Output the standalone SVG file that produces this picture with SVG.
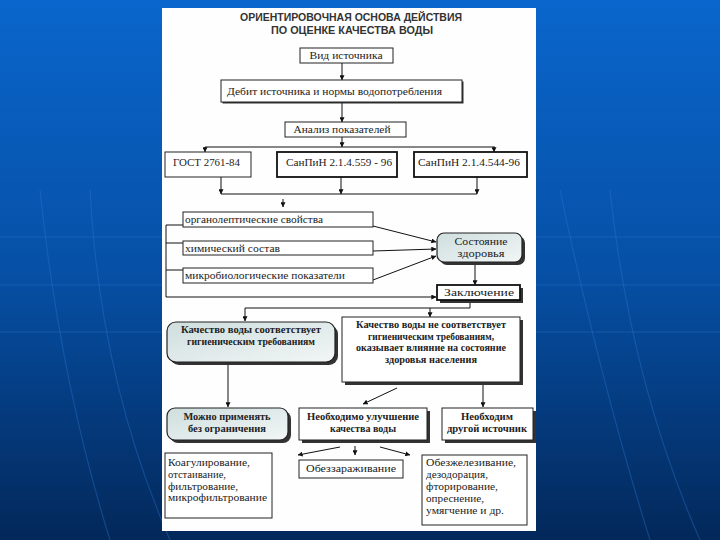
<svg xmlns="http://www.w3.org/2000/svg" width="720" height="540" viewBox="0 0 720 540">
<defs>
<linearGradient id="bg" x1="0" y1="0" x2="0" y2="1">
<stop offset="0" stop-color="#0a66cc"/>
<stop offset="0.5" stop-color="#0650a6"/>
<stop offset="1" stop-color="#03285a"/>
</linearGradient>
<linearGradient id="rf" x1="0" y1="0" x2="1" y2="1">
<stop offset="0" stop-color="#cfdede"/>
<stop offset="1" stop-color="#f2f6f6"/>
</linearGradient>
<marker id="ah" viewBox="0 0 8 8" refX="7.5" refY="4" markerWidth="5" markerHeight="5" orient="auto" markerUnits="userSpaceOnUse">
<path d="M0,0 L8,4 L0,8 z" fill="#111"/>
</marker>
<style>
.box{fill:#fff;stroke:#222;stroke-width:1}
.thick{fill:#fff;stroke:#111;stroke-width:1.8}
.rnd{fill:url(#rf);stroke:#222;stroke-width:1.2}
.sh{fill:#333}
.t{font-family:"Liberation Serif","DejaVu Serif",serif;font-size:10.5px;fill:#222}
.b{font-family:"Liberation Serif","DejaVu Serif",serif;font-size:10.5px;font-weight:bold;fill:#222}
.title{font-family:"Liberation Sans","DejaVu Sans",sans-serif;font-size:10.5px;font-weight:bold;fill:#333}
.c{stroke:#111;stroke-width:1;fill:none}
.ca{stroke:#111;stroke-width:1;fill:none;marker-end:url(#ah)}
.deco{stroke:#2f7ad6;stroke-width:1.2;fill:none;opacity:0.35}
</style>
</defs>
<rect x="0" y="0" width="720" height="540" fill="url(#bg)"/>
<path class="deco" d="M40,190 Q60,380 110,540"/>
<path class="deco" d="M90,190 Q100,380 170,540"/>
<path class="deco" d="M560,190 Q600,380 650,540"/>
<path class="deco" d="M610,190 Q630,380 700,540"/>
<line x1="0" y1="237" x2="720" y2="237" stroke="#3a80d0" stroke-width="0.8" opacity="0.4"/>
<line x1="0" y1="285" x2="720" y2="285" stroke="#3a80d0" stroke-width="0.8" opacity="0.4"/>
<line x1="0" y1="332" x2="720" y2="332" stroke="#3a80d0" stroke-width="0.8" opacity="0.4"/>
<rect x="162" y="8" width="374" height="523" fill="#fefefe"/>

<g id="title">
<text class="title" x="351" y="21" text-anchor="middle" textLength="222" lengthAdjust="spacingAndGlyphs">ОРИЕНТИРОВОЧНАЯ ОСНОВА ДЕЙСТВИЯ</text>
<text class="title" x="352" y="34" text-anchor="middle" textLength="162" lengthAdjust="spacingAndGlyphs">ПО ОЦЕНКЕ КАЧЕСТВА ВОДЫ</text>
</g>

<g id="connectors">
<line class="ca" x1="342" y1="63" x2="342" y2="80"/>
<line class="ca" x1="342" y1="103" x2="342" y2="122"/>
<line class="ca" x1="342" y1="137" x2="342" y2="147"/>
<polyline class="c" points="205,147 495,147"/>
<line class="ca" x1="205" y1="147" x2="205" y2="152"/>
<line class="ca" x1="494" y1="147" x2="494" y2="152"/>
<line class="ca" x1="221" y1="177" x2="221" y2="194"/>
<line class="ca" x1="341" y1="177" x2="341" y2="194"/>
<line class="ca" x1="477" y1="177" x2="477" y2="194"/>
<line class="c" x1="221" y1="194" x2="477" y2="194"/>
<line class="ca" x1="283" y1="199" x2="283" y2="207"/>
<polyline class="c" points="166,225 166,297"/>
<line class="c" x1="166" y1="225" x2="183" y2="225"/>
<line class="c" x1="166" y1="243" x2="183" y2="243"/>
<line class="c" x1="166" y1="270" x2="183" y2="270"/>
<line class="ca" x1="166" y1="297" x2="436" y2="297"/>
<line class="ca" x1="373" y1="226" x2="436" y2="242"/>
<line class="ca" x1="373" y1="251" x2="436" y2="249"/>
<line class="ca" x1="373" y1="280" x2="436" y2="256"/>
<line class="ca" x1="475" y1="264" x2="475" y2="285"/>
<polyline class="c" points="470,301 470,308 245,308"/>
<line class="ca" x1="245" y1="308" x2="245" y2="321"/>
<line class="ca" x1="430" y1="308" x2="430" y2="317"/>
<line class="ca" x1="228" y1="363" x2="228" y2="407"/>
<line class="ca" x1="397" y1="388" x2="363" y2="404"/>
<line class="ca" x1="483" y1="384" x2="483" y2="407"/>
<line class="ca" x1="340" y1="447" x2="298" y2="455"/>
<line class="ca" x1="355" y1="446" x2="355" y2="455"/>
<line class="ca" x1="380" y1="447" x2="410" y2="455"/>
</g>

<g id="n-vid">
<rect class="box" x="300" y="48" width="93" height="15"/>
<text class="t" x="346" y="59" text-anchor="middle" textLength="73" lengthAdjust="spacingAndGlyphs">Вид источника</text>
</g>
<g id="n-debit">
<rect class="sh" x="222.5" y="81.5" width="241" height="22"/>
<rect class="box" x="221" y="80" width="241" height="22"/>
<text class="t" x="227" y="95" textLength="215" lengthAdjust="spacingAndGlyphs">Дебит источника и нормы водопотребления</text>
</g>
<g id="n-analiz">
<rect class="box" x="285" y="122" width="121" height="15"/>
<text class="t" x="342" y="133" text-anchor="middle" textLength="97" lengthAdjust="spacingAndGlyphs">Анализ показателей</text>
</g>
<g id="n-gost">
<rect class="box" x="165" y="152" width="86" height="25" stroke-width="1.5"/>
<text class="t" x="173" y="166" textLength="67" lengthAdjust="spacingAndGlyphs">ГОСТ 2761-84</text>
</g>
<g id="n-sanpin559">
<rect class="thick" x="277" y="152" width="120" height="25" stroke-width="2"/>
<text class="t" x="286" y="166" textLength="106" lengthAdjust="spacingAndGlyphs">СанПиН 2.1.4.559 - 96</text>
</g>
<g id="n-sanpin544">
<rect class="thick" x="414" y="152" width="113" height="25" stroke-width="1.6"/>
<text class="t" x="418" y="166" textLength="102" lengthAdjust="spacingAndGlyphs">СанПиН 2.1.4.544-96</text>
</g>
<g id="n-organo">
<rect class="box" x="183" y="212" width="190" height="15"/>
<text class="t" x="185" y="223" textLength="138" lengthAdjust="spacingAndGlyphs">органолептические свойства</text>
</g>
<g id="n-chem">
<rect class="box" x="183" y="241" width="190" height="14"/>
<text class="t" x="185" y="252" textLength="95" lengthAdjust="spacingAndGlyphs">химический состав</text>
</g>
<g id="n-micro">
<rect class="box" x="183" y="268" width="190" height="15"/>
<text class="t" x="185" y="279" textLength="160" lengthAdjust="spacingAndGlyphs">микробиологические показатели</text>
</g>
<g id="n-health">
<rect class="sh" x="440" y="236" width="85" height="29" rx="7"/>
<rect class="rnd" x="437" y="233" width="85" height="29" rx="7"/>
<text class="t" x="481" y="245" text-anchor="middle" textLength="53" lengthAdjust="spacingAndGlyphs">Состояние</text>
<text class="t" x="481" y="257" text-anchor="middle" textLength="47" lengthAdjust="spacingAndGlyphs">здоровья</text>
</g>
<g id="n-concl">
<rect class="sh" x="440" y="288" width="83" height="15"/>
<rect class="thick" x="437" y="285" width="83" height="15" fill="#f2f2f2"/>
<text class="t" x="479" y="296" text-anchor="middle" textLength="70" lengthAdjust="spacingAndGlyphs">Заключение</text>
</g>
<g id="n-ok">
<rect class="sh" x="170" y="325" width="168" height="40" rx="9"/>
<rect class="rnd" x="167" y="322" width="168" height="40" rx="9"/>
<text class="b" x="251" y="333" text-anchor="middle" textLength="140" lengthAdjust="spacingAndGlyphs">Качество воды соответствует</text>
<text class="b" x="251" y="345" text-anchor="middle" textLength="128" lengthAdjust="spacingAndGlyphs">гигиеническим требованиям</text>
</g>
<g id="n-notok">
<rect class="sh" x="345" y="320" width="178" height="65"/>
<rect class="box" x="342" y="317" width="178" height="65"/>
<text class="b" x="431" y="328" text-anchor="middle" textLength="150" lengthAdjust="spacingAndGlyphs">Качество воды не соответствует</text>
<text class="b" x="431" y="340" text-anchor="middle" textLength="126" lengthAdjust="spacingAndGlyphs">гигиеническим требованиям,</text>
<text class="b" x="431" y="351" text-anchor="middle" textLength="150" lengthAdjust="spacingAndGlyphs">оказывает влияние на состояние</text>
<text class="b" x="431" y="363" text-anchor="middle" textLength="92" lengthAdjust="spacingAndGlyphs">здоровья населения</text>
</g>
<g id="n-use">
<rect class="sh" x="170" y="411" width="121" height="32" rx="8"/>
<rect class="rnd" x="167" y="408" width="121" height="32" rx="8"/>
<text class="b" x="227" y="420" text-anchor="middle" textLength="87" lengthAdjust="spacingAndGlyphs">Можно применять</text>
<text class="b" x="227" y="432" text-anchor="middle" textLength="78" lengthAdjust="spacingAndGlyphs">без ограничения</text>
</g>
<g id="n-improve">
<rect class="sh" x="302" y="411" width="128" height="32"/>
<rect class="box" x="299" y="408" width="128" height="32"/>
<text class="b" x="363" y="420" text-anchor="middle" textLength="112" lengthAdjust="spacingAndGlyphs">Необходимо улучшение</text>
<text class="b" x="363" y="432" text-anchor="middle" textLength="66" lengthAdjust="spacingAndGlyphs">качества воды</text>
</g>
<g id="n-other">
<rect class="sh" x="445" y="411" width="91" height="32"/>
<rect class="box" x="442" y="408" width="91" height="32"/>
<text class="b" x="487" y="420" text-anchor="middle" textLength="52" lengthAdjust="spacingAndGlyphs">Необходим</text>
<text class="b" x="487" y="432" text-anchor="middle" textLength="80" lengthAdjust="spacingAndGlyphs">другой источник</text>
</g>
<g id="n-coag">
<rect class="box" x="165" y="453" width="107" height="65"/>
<text class="t" x="168" y="466" textLength="82" lengthAdjust="spacingAndGlyphs">Коагулирование,</text>
<text class="t" x="168" y="478" textLength="58" lengthAdjust="spacingAndGlyphs">отстаивание,</text>
<text class="t" x="168" y="490" textLength="70" lengthAdjust="spacingAndGlyphs">фильтрование,</text>
<text class="t" x="168" y="501" textLength="99" lengthAdjust="spacingAndGlyphs">микрофильтрование</text>
</g>
<g id="n-disinf">
<rect class="box" x="299" y="460" width="104" height="18"/>
<text class="t" x="351" y="472" text-anchor="middle" textLength="90" lengthAdjust="spacingAndGlyphs">Обеззараживание</text>
</g>
<g id="n-special">
<rect class="box" x="422" y="455" width="105" height="70"/>
<text class="t" x="426" y="466" textLength="90" lengthAdjust="spacingAndGlyphs">Обезжелезивание,</text>
<text class="t" x="426" y="478" textLength="62" lengthAdjust="spacingAndGlyphs">дезодорация,</text>
<text class="t" x="426" y="490" textLength="72" lengthAdjust="spacingAndGlyphs">фторирование,</text>
<text class="t" x="426" y="502" textLength="58" lengthAdjust="spacingAndGlyphs">опреснение,</text>
<text class="t" x="426" y="514" textLength="78" lengthAdjust="spacingAndGlyphs">умягчение и др.</text>
</g>
</svg>
